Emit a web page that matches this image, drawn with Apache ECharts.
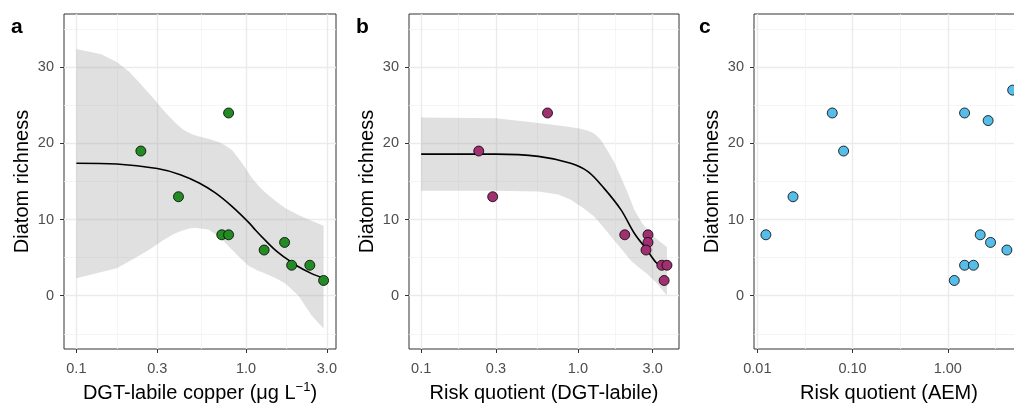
<!DOCTYPE html>
<html><head><meta charset="utf-8">
<script src="https://cdn.jsdelivr.net/npm/echarts@6/dist/echarts.min.js"></script>
<style>html,body{margin:0;padding:0;background:#fff;overflow:hidden}#c{width:1030px;height:403px}</style>
</head><body><div id="c"></div>
<script>
// ---------- Panel a: DGT-labile copper ----------
const aX = [0.24, 0.40, 0.79, 0.72, 0.79, 1.28, 1.69, 1.86, 2.38, 2.87];
const aY = [19, 13, 24, 8, 8, 6, 7, 4, 4, 2];
const aCurveX = [0.1, 0.173, 0.3, 0.41, 0.53, 0.66, 0.83, 1.04, 1.14, 1.31, 1.49, 1.7, 1.97, 2.44, 2.87];
const aCurveY = [17.4, 17.3, 16.7, 15.9, 14.8, 13.5, 11.7, 9.6, 8.6, 7.2, 6.0, 5.0, 4.0, 2.9, 2.3];
const aUpperX = [0.1, 0.14, 0.173, 0.205, 0.237, 0.28, 0.325, 0.375, 0.426, 0.48, 0.53, 0.6, 0.69, 0.76, 0.83, 0.95, 1.09, 1.2, 1.31, 1.5, 1.71, 2.0, 2.34, 2.87];
const aUpperY = [32.4, 31.7, 30.7, 29.4, 27.9, 26.1, 24.4, 22.9, 21.8, 21.2, 20.9, 20.6, 20.2, 19.7, 19.1, 17.4, 15.4, 14.3, 13.5, 12.4, 11.5, 10.7, 10.0, 9.2];
const aLowerX = [0.1, 0.173, 0.237, 0.28, 0.325, 0.375, 0.426, 0.47, 0.51, 0.6, 0.69, 0.76, 0.83, 0.93, 1.04, 1.17, 1.31, 1.5, 1.71, 2.04, 2.44, 2.87];
const aLowerY = [2.3, 3.6, 5.3, 6.3, 7.3, 8.1, 8.6, 8.85, 8.9, 8.7, 7.8, 6.9, 6.0, 4.9, 3.9, 3.3, 2.9, 2.3, 1.6, 0.0, -2.6, -4.3];
const aTicks = [0.1, 0.3, 1.0, 3.0];
const aTickLabels = ['0.1', '0.3', '1.0', '3.0'];
const aMinor = [0.1732, 0.5477, 1.732];

// ---------- Panel b: Risk quotient (DGT-labile) ----------
const bX = [0.233, 0.286, 0.64, 1.99, 2.80, 2.80, 2.72, 3.43, 3.70, 3.55];
const bY = [19, 13, 24, 8, 8, 7, 6, 4, 4, 2];
const bCurveX = [0.1, 0.3, 0.56, 0.9, 1.16, 1.47, 1.88, 2.29, 2.76, 3.18, 3.7];
const bCurveY = [18.6, 18.6, 18.3, 17.4, 16.3, 14.1, 11.3, 8.2, 6.0, 4.3, 3.5];
const bUpperX = [0.1, 0.3, 0.56, 0.8, 1.0, 1.15, 1.27, 1.4, 1.54, 1.7, 1.88, 2.08, 2.29, 2.55, 2.88, 3.3, 3.7];
const bUpperY = [23.4, 23.3, 22.7, 22.3, 22.0, 21.7, 21.3, 20.5, 19.1, 17.6, 15.6, 13.5, 11.3, 9.6, 8.2, 7.2, 6.4];
const bLowerX = [0.1, 0.3, 0.56, 0.75, 0.9, 1.07, 1.27, 1.47, 1.7, 1.92, 2.16, 2.45, 2.76, 3.2, 3.6, 3.7];
const bLowerY = [13.8, 13.8, 13.7, 13.3, 12.6, 11.6, 10.4, 8.9, 7.3, 6.0, 4.7, 3.7, 2.9, 1.6, 0.3, 0.1];
const bTicks = [0.1, 0.3, 1.0, 3.0];
const bTickLabels = ['0.1', '0.3', '1.0', '3.0'];
const bMinor = [0.1732, 0.5477, 1.732];

// ---------- Panel c: Risk quotient (AEM) ----------
const cX = [0.0123, 0.0237, 0.0612, 0.0805, 1.50, 2.65, 2.19, 2.81, 4.17, 1.17, 1.50, 1.86, 4.8];
const cY = [8, 13, 24, 19, 24, 23, 8, 7, 6, 2, 4, 4, 27];
const cTicks = [0.01, 0.1, 1.0];
const cTickLabels = ['0.01', '0.10', '1.00'];
const cMinor = [0.03162, 0.3162, 3.162];

// ---------- shared y ----------
const yTicks = [0, 10, 20, 30];
const yMinor = [-5, 5, 15, 25, 35];

const FONT = '"Liberation Sans", Arial, sans-serif';
const lg = v => Math.log10(v);
const pairs = (xs, ys) => xs.map((x, i) => [lg(x), ys[i]]);

const panels = [
  { letter: 'a', letterLeft: 11, left: 64, width: 272, xmin: -1.073, xmax: 0.531,
    ticks: aTicks, labels: aTickLabels, minor: aMinor, color: '#238B23',
    pts: pairs(aX, aY), curve: pairs(aCurveX, aCurveY),
    upper: pairs(aUpperX, aUpperY), lower: pairs(aLowerX, aLowerY),
    name: '{t|DGT-labile copper (μg L}{s|−1}{t|)}' },
  { letter: 'b', letterLeft: 356, left: 409, width: 270, xmin: -1.0775, xmax: 0.645,
    ticks: bTicks, labels: bTickLabels, minor: bMinor, color: '#A0306F',
    pts: pairs(bX, bY), curve: pairs(bCurveX, bCurveY),
    upper: pairs(bUpperX, bUpperY), lower: pairs(bLowerX, bLowerY),
    name: '{t|Risk quotient (DGT-labile)}' },
  { letter: 'c', letterLeft: 699, left: 754, width: 270, xmin: -2.035, xmax: 0.80,
    ticks: cTicks, labels: cTickLabels, minor: cMinor, color: '#56BDE8',
    pts: pairs(cX, cY), curve: null, upper: null, lower: null,
    name: '{t|Risk quotient (AEM)}' }
];

const grid = [], xAxis = [], yAxis = [], series = [], title = [];
panels.forEach((p, i) => {
  grid.push({ left: p.left, top: 14, width: p.width, height: 335, show: true,
    outerBoundsMode: 'none', containLabel: false,
    borderColor: '#333', borderWidth: 1, backgroundColor: '#fff' });
  title.push({ text: p.letter, left: p.letterLeft, top: 17, padding: 0,
    textStyle: { fontSize: 21, fontWeight: 'bold', fontFamily: FONT, color: '#000' } });
  const tv = p.ticks.map(lg);
  xAxis.push({
    gridIndex: i, type: 'value', min: p.xmin, max: p.xmax, position: 'bottom',
    axisLine: { show: false, onZero: false },
    axisTick: { show: true, length: 4, inside: false, customValues: tv, lineStyle: { color: '#333', width: 1 } },
    axisLabel: { customValues: tv, color: '#4d4d4d', fontSize: 14.5, fontFamily: FONT, margin: 12,
      formatter: v => { const j = tv.findIndex(t => Math.abs(t - v) < 1e-6); return j >= 0 ? p.labels[j] : ''; } },
    splitLine: { show: true, lineStyle: { color: '#ebebeb', width: 1.4 } },
    name: p.name, nameLocation: 'middle', nameGap: 31,
    nameTextStyle: { rich: {
      t: { fontSize: 20, fontFamily: FONT, color: '#000', lineHeight: 26 },
      s: { fontSize: 13, fontFamily: FONT, color: '#000', lineHeight: 14, verticalAlign: 'top' } } }
  });
  xAxis.push({
    gridIndex: i, type: 'value', min: p.xmin, max: p.xmax, position: 'bottom',
    axisLine: { show: false, onZero: false }, axisLabel: { show: false },
    axisTick: { show: false, customValues: p.minor.map(lg) },
    splitLine: { show: true, lineStyle: { color: '#f3f3f3', width: 0.8 } }
  });
  yAxis.push({
    gridIndex: i, type: 'value', min: -7, max: 37, position: 'left',
    axisLine: { show: false, onZero: false },
    axisTick: { show: true, length: 4, customValues: yTicks, lineStyle: { color: '#333', width: 1 } },
    axisLabel: { customValues: yTicks, color: '#4d4d4d', fontSize: 14.5, fontFamily: FONT, margin: 10 },
    splitLine: { show: true, lineStyle: { color: '#ebebeb', width: 1.4 } },
    name: 'Diatom richness', nameLocation: 'middle', nameGap: 32, nameRotate: 90,
    nameTextStyle: { fontSize: 20, fontFamily: FONT, color: '#000' }
  });
  yAxis.push({
    gridIndex: i, type: 'value', min: -7, max: 37, position: 'left',
    axisLine: { show: false, onZero: false }, axisLabel: { show: false },
    axisTick: { show: false, customValues: yMinor },
    splitLine: { show: true, lineStyle: { color: '#f3f3f3', width: 0.8 } }
  });
  const xi = 2 * i, yi = 2 * i;
  if (p.upper) {
    const up = p.upper, lo = p.lower;
    series.push({
      type: 'custom', xAxisIndex: xi, yAxisIndex: yi, silent: true, z: 1,
      data: [[up[0][0], up[0][1]]],
      renderItem: (params, api) => {
        const poly = up.concat(lo.slice().reverse()).map(pt => api.coord(pt));
        return { type: 'polygon', shape: { points: poly },
          style: { fill: 'rgba(153,153,153,0.3)', stroke: null } };
      }
    });
  }
  if (p.curve) {
    series.push({ type: 'line', xAxisIndex: xi, yAxisIndex: yi, data: p.curve, smooth: 0.35,
      showSymbol: false, silent: true, z: 3, lineStyle: { color: '#000', width: 1.6 } });
  }
  series.push({ type: 'scatter', xAxisIndex: xi, yAxisIndex: yi, data: p.pts, symbolSize: 10, z: 4,
    itemStyle: { color: p.color, borderColor: '#000', borderWidth: 0.8, opacity: 1 } });
});

const chart = echarts.init(document.getElementById('c'), null, { renderer: 'canvas' });
chart.setOption({ animation: false, backgroundColor: '#fff', title, grid, xAxis, yAxis, series });
</script>
</body></html>
